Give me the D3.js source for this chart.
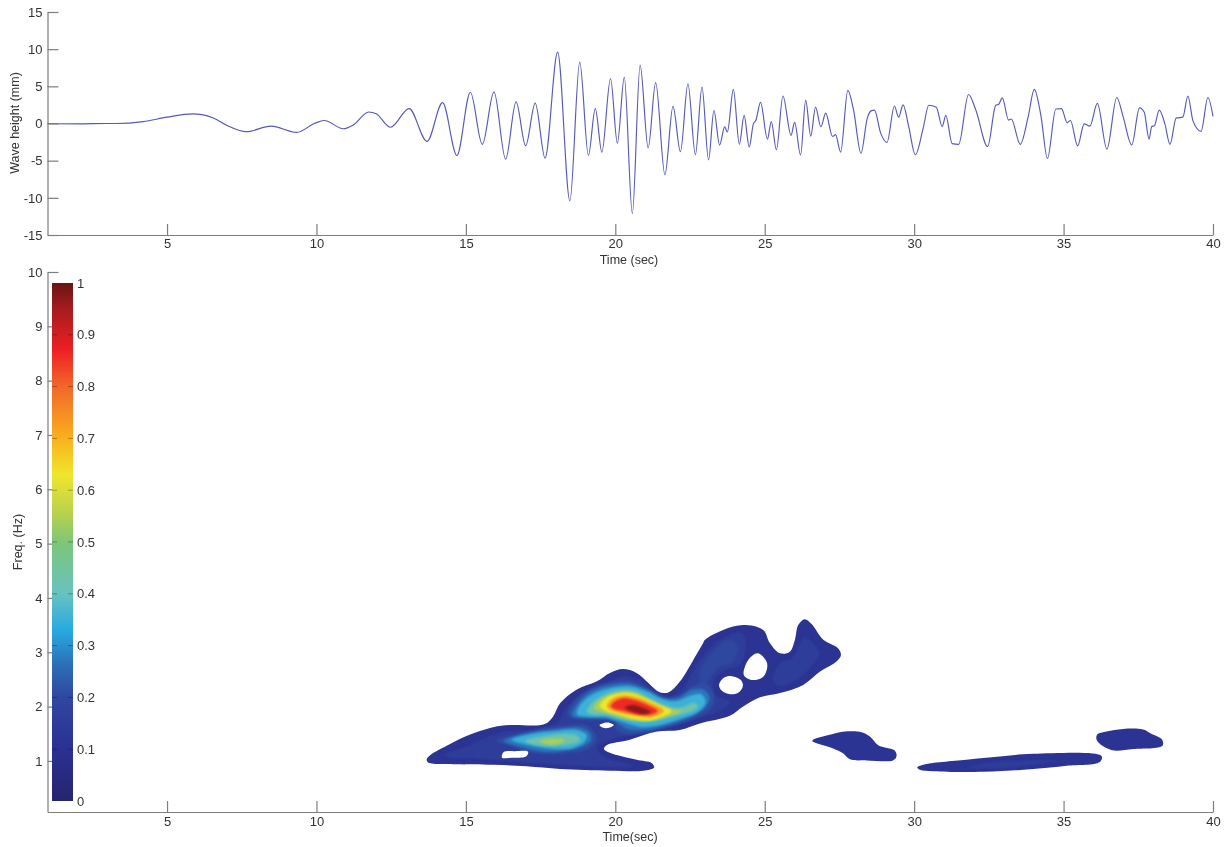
<!DOCTYPE html>
<html>
<head>
<meta charset="utf-8">
<script src="https://cdn.jsdelivr.net/npm/d3@7"></script>
<style>
  html, body { margin: 0; padding: 0; background: #fff; }
  svg { display: block; filter: blur(0.45px); }
  text { font-family: "Liberation Sans", Arial, sans-serif; }
</style>
</head>
<body>
<svg id="chart" width="1230" height="847"></svg>
<script>
// wave record: [time s, height mm]
const waveTime = [1,2,3,3.3,4.2,5,5.85,6.17,6.57,7.03,7.65,8.48,9.34,9.93,10.26,10.9,11.23,11.75,12,12.48,13.1,13.7,14.22,14.7,15.15,15.55,15.94,16.33,16.68,17,17.32,17.65,18.07,18.48,18.81,19.1,19.33,19.55,19.84,20.07,20.3,20.57,20.83,21.1,21.35,21.66,21.93,22.18,22.43,22.68,22.9,23.12,23.3,23.49,23.66,23.75,23.95,24.15,24.31,24.48,24.62,24.7,24.86,25.09,25.22,25.39,25.61,25.88,26,26.2,26.37,26.54,26.7,26.88,27.04,27.27,27.37,27.54,27.78,27.97,28.22,28.43,28.56,28.67,28.88,29.09,29.34,29.48,29.63,29.81,30.04,30.3,30.49,30.74,30.94,31.06,31.27,31.49,31.82,32.06,32.46,32.73,32.83,32.95,33.16,33.25,33.55,33.82,34.02,34.24,34.46,34.74,34.93,35.12,35.23,35.47,35.69,35.88,36.13,36.45,36.78,36.99,37.28,37.54,37.7,37.86,37.95,38.04,38.2,38.39,38.56,38.77,38.99,39.16,39.33,39.6,39.83,40];
const waveHeight = [0,-0.05,0,0,0.25,0.85,1.3,1.2,0.7,-0.3,-1.1,-0.35,-1.2,0,0.4,-0.7,-0.2,1.55,1.3,-0.5,2,-2.4,2.8,-4.3,4.2,-2.8,4.25,-4.8,2.9,-3,2.75,-4.65,9.6,-10.4,8.25,-4.3,2,-3.85,6.05,-2.65,6.2,-12.1,7.85,-3.3,5.5,-6.9,2.3,-3.8,5.35,-4.2,4.9,-4.9,1.75,-2.9,-0.45,-1.15,4.6,-2.8,1.1,-3.15,-0.05,0.4,2.85,-2.1,0.25,-3.55,3.7,-1.6,0.15,-4.25,3.15,-1.7,2.2,-0.45,1.4,-1.75,-1.5,-3.85,4.45,1.85,-4,0.7,1.7,1.8,-1.3,-2.55,2.35,0.85,2.5,-0.25,-4.2,-0.65,2.45,2.2,-0.4,1.1,-2.7,-2.8,3.9,1.85,-3.1,2.45,2.6,3.45,0.45,0.6,-2.8,1,4.6,1.1,-4.7,1.95,2,0.1,0.4,-3,-0.05,-0.35,2.7,-3.45,3.5,0.95,-2.9,2.1,1.5,-2.1,-0.4,-0.3,1.8,-0.05,-2.8,0.75,0.85,3.7,0.35,-1.05,3.5,0.95];

const timeTicks = [5, 10, 15, 20, 25, 30, 35, 40];
const waveTicks = [-15, -10, -5, 0, 5, 10, 15];
const freqTicks = [1, 2, 3, 4, 5, 6, 7, 8, 9, 10];
const barTicks = [0, 0.1, 0.2, 0.3, 0.4, 0.5, 0.6, 0.7, 0.8, 0.9, 1];

// colour bar stops
const stopValues = [0, 0.1, 0.2, 0.26, 0.33, 0.4, 0.5, 0.56, 0.63, 0.7, 0.8, 0.87, 0.95, 1];
const stopColors = ["#25246e", "#2a3192", "#2f479f", "#2d6db5", "#27aae1", "#68c2c0", "#7fc678", "#bcd34a", "#efe62c", "#f9b11d", "#f2672a", "#ed2024", "#a61c20", "#6a1414"];

// contour outlines: [time s, freq Hz]
const mainOutline = [[13.69,1.03],[13.81,1.11],[14.36,1.28],[15.02,1.46],[15.91,1.62],[16.47,1.66],[17.64,1.68],[17.92,1.82],[18.15,2.06],[18.7,2.31],[19.37,2.46],[19.82,2.62],[20.26,2.69],[20.71,2.62],[21.1,2.44],[21.43,2.28],[21.77,2.26],[22.16,2.46],[22.61,2.86],[22.94,3.17],[23,3.23],[23.61,3.41],[24.28,3.5],[24.95,3.41],[25.17,3.17],[25.51,2.98],[25.84,3.01],[26.01,3.23],[26.12,3.5],[26.34,3.61],[26.57,3.52],[26.96,3.23],[27.46,3.07],[27.55,2.95],[27.4,2.83],[26.84,2.64],[26.29,2.4],[25.51,2.25],[24.84,2.17],[24.28,2],[23.83,1.83],[22.83,1.69],[22.16,1.57],[21.38,1.54],[20.49,1.39],[19.71,1.29],[19.62,1.22],[19.82,1.15],[20.71,1.02],[21.21,0.96],[21.3,0.88],[20.93,0.82],[19.82,0.82],[18.15,0.85],[17.03,0.9],[15.91,0.93],[14.58,0.94],[13.74,0.97]];
const bodyLow = [[14.3,1.11],[15.14,1.29],[16.14,1.52],[17.48,1.59],[18.08,1.72],[18.35,1.98],[18.88,2.2],[19.48,2.34],[20.22,2.56],[20.82,2.49],[21.32,2.27],[21.76,2.16],[22.23,2.31],[22.66,2.71],[23.1,3.04],[23.67,3.28],[24.24,3.36],[24.37,3.13],[24.17,2.77],[23.67,2.67],[23.3,2.49],[23.37,2.21],[23.83,2.09],[23.57,1.94],[22.83,1.79],[21.83,1.64],[20.82,1.52],[19.82,1.39],[19.38,1.24],[19.65,1.07],[20.66,0.91],[19.48,0.89],[18.15,0.93],[16.81,0.98],[15.47,1.04],[14.47,1.06]];
const rightLobe = [[25.27,2.49],[25.51,2.8],[25.94,2.91],[26.34,3.28],[26.58,3.19],[26.84,2.99],[26.61,2.77],[26.07,2.49],[25.51,2.38]];
const upperLobe = [[22.83,2.64],[23.23,3],[23.83,3.23],[24.1,3.13],[23.93,2.82],[23.43,2.71],[23.1,2.45],[22.83,2.21]];
const ridgeOuter = [[18.41,1.83],[18.65,2.12],[19.15,2.33],[19.82,2.45],[20.49,2.47],[21.16,2.31],[21.66,2.18],[22.16,2.21],[22.66,2.4],[23.1,2.4],[23.3,2.21],[23.23,1.98],[22.66,1.79],[21.83,1.63],[20.99,1.52],[20.32,1.5],[19.99,1.61],[20.05,1.72],[19.65,1.77],[19.15,1.75]];
const ridgeMid = [[18.55,1.83],[18.78,2.09],[19.22,2.29],[19.82,2.4],[20.49,2.42],[21.16,2.29],[21.56,2.16],[22.09,2.16],[22.56,2.31],[22.96,2.31],[23.16,2.16],[23,1.98],[22.49,1.81],[21.76,1.66],[20.99,1.57],[20.42,1.59],[19.89,1.75],[19.22,1.79]];
const ridgeCyan = [[18.71,1.86],[18.88,2.07],[19.32,2.25],[19.82,2.34],[20.49,2.37],[21.09,2.27],[21.49,2.16],[21.99,2.1],[22.56,2.21],[22.86,2.23],[23.03,2.09],[22.76,1.9],[22.16,1.77],[21.49,1.66],[20.82,1.63],[20.22,1.72],[19.65,1.81],[19.15,1.81]];
const ridgeTeal = [[19.05,1.9],[19.22,2.07],[19.59,2.21],[20.09,2.3],[20.62,2.29],[21.16,2.16],[21.69,2.03],[22.16,1.98],[22.66,2.07],[22.76,1.99],[22.49,1.9],[21.89,1.81],[21.32,1.74],[20.82,1.72],[20.29,1.77],[19.75,1.85],[19.32,1.85]];
const ridgeGreen = [[19.28,1.96],[19.42,2.1],[19.79,2.21],[20.22,2.27],[20.69,2.25],[21.22,2.1],[21.76,1.96],[22.23,1.92],[21.83,1.83],[21.29,1.75],[20.76,1.74],[20.22,1.79],[19.69,1.88]];
const peakYellow = [[19.48,2.01],[19.69,2.16],[20.02,2.23],[20.49,2.25],[20.99,2.16],[21.49,2.03],[21.89,1.92],[21.63,1.83],[21.16,1.75],[20.62,1.77],[20.15,1.85],[19.69,1.92]];
const peakOrange = [[19.72,2.01],[19.89,2.14],[20.22,2.2],[20.62,2.18],[21.09,2.09],[21.63,1.92],[21.22,1.81],[20.69,1.83],[20.22,1.88],[19.82,1.94]];
const peakRed = [[19.85,2.01],[19.99,2.1],[20.29,2.16],[20.66,2.12],[21.09,2.03],[21.42,1.92],[21.16,1.85],[20.69,1.86],[20.26,1.92],[19.95,1.96]];
const peakDark = [[20.32,1.99],[20.59,2.03],[20.92,1.98],[21.19,1.9],[20.95,1.86],[20.62,1.9]];
const lowOuter = [[16.04,1.37],[16.98,1.53],[17.98,1.63],[18.98,1.66],[19.22,1.57],[19.38,1.42],[19.15,1.24],[18.48,1.15],[17.64,1.13],[16.98,1.18],[16.47,1.28]];
const lowMid = [[16.27,1.37],[17.14,1.52],[18.08,1.59],[18.82,1.61],[19.15,1.52],[19.18,1.37],[18.88,1.26],[18.15,1.18],[17.48,1.18],[16.81,1.26]];
const lowCyan = [[16.53,1.39],[17.24,1.5],[18.04,1.55],[18.7,1.57],[19.04,1.48],[18.98,1.36],[18.58,1.24],[17.91,1.22],[17.24,1.28],[16.81,1.33]];
const lowTeal = [[16.98,1.37],[17.64,1.46],[18.31,1.5],[18.75,1.46],[18.82,1.37],[18.31,1.29],[17.64,1.28],[17.21,1.31]];
const lowGreen = [[17.48,1.37],[17.91,1.41],[18.31,1.39],[18.08,1.31],[17.64,1.31]];
const islandA = [[26.59,1.37],[27.18,1.48],[27.68,1.54],[28.24,1.53],[28.52,1.45],[28.8,1.29],[29.35,1.19],[29.41,1.08],[29.29,1.01],[28.41,1.01],[27.85,1.03],[27.62,1.14],[27.29,1.23]];
const islandB = [[30.1,0.88],[30.3,0.93],[31.75,1.02],[32.87,1.08],[33.98,1.13],[36.27,1.09],[36.21,0.98],[35.1,0.91],[33.98,0.85],[32.31,0.8],[30.64,0.81],[30.19,0.84]];
const islandBCore = [[31.75,0.87],[32.87,0.99],[34.76,1],[33.97,0.93],[32.87,0.87]];
const islandC = [[36.12,1.48],[36.44,1.54],[36.99,1.59],[37.66,1.58],[37.94,1.5],[38.3,1.39],[38.31,1.28],[37.33,1.22],[36.6,1.2],[36.12,1.37]];
const holeA = [[16.26,1.16],[16.64,1.18],[17.08,1.17],[17.01,1.08],[16.54,1.06],[16.21,1.06]];
const holeB = [[19.47,1.66],[19.62,1.7],[19.82,1.7],[19.95,1.66],[19.79,1.61],[19.59,1.61]];
const holeC = [[23.47,2.4],[23.63,2.53],[23.9,2.56],[24.2,2.49],[24.27,2.38],[24.1,2.25],[23.8,2.23],[23.57,2.29]];
const holeD = [[24.77,2.98],[25.08,2.8],[24.95,2.55],[24.56,2.49],[24.3,2.58],[24.45,2.86]];

// back to front, each with its contour level
const baseBands = [[0.11, mainOutline], [0.11, islandA], [0.11, islandB], [0.11, islandC]];
const innerBands = [
  [0.16, bodyLow], [0.16, rightLobe], [0.16, islandBCore], [0.2, upperLobe],
  [0.21, ridgeOuter], [0.21, lowOuter], [0.27, ridgeMid], [0.27, lowMid],
  [0.35, ridgeCyan], [0.35, lowCyan], [0.43, ridgeTeal], [0.43, lowTeal],
  [0.54, ridgeGreen], [0.54, lowGreen], [0.63, peakYellow], [0.73, peakOrange],
  [0.86, peakRed], [0.97, peakDark],
];
const holes = [holeA, holeB, holeC, holeD];

const svg = d3.select("#chart");
const defs = svg.append("defs");

defs
  .append("filter")
  .attr("id", "soften")
  .attr("x", "-20%")
  .attr("y", "-20%")
  .attr("width", "140%")
  .attr("height", "140%")
  .append("feGaussianBlur")
  .attr("stdDeviation", 1.1);

const xTop = d3.scaleLinear().domain([1, 40]).range([47.5, 1213]);
const yTop = d3.scaleLinear().domain([-15, 15]).range([235, 12]);
const xLow = d3.scaleLinear().domain([1, 40]).range([47.5, 1213]);
const yLow = d3.scaleLinear().domain([0.06, 10]).range([812, 272]);
const colour = d3.scaleLinear().domain(stopValues).range(stopColors);
const yBar = d3.scaleLinear().domain([0, 1]).range([801, 283]);

function styleAxis(g) {
  g.selectAll("path, line").attr("stroke", "#7d7d7d").attr("stroke-width", 1.2);
  g.selectAll("text").attr("font-size", 13);
}

// top panel
const topPanel = svg.append("g");

topPanel
  .append("path")
  .datum(d3.zip(waveTime, waveHeight))
  .attr("fill", "none")
  .attr("stroke", "#5559b8")
  .attr("stroke-width", 1.15)
  .attr("d", d3.line().x((d) => xTop(d[0])).y((d) => yTop(d[1])).curve(d3.curveMonotoneX));

topPanel
  .append("g")
  .attr("transform", "translate(0,235)")
  .call(d3.axisBottom(xTop).tickValues(timeTicks).tickSize(-11).tickSizeOuter(0).tickPadding(4))
  .call(styleAxis);

topPanel
  .append("g")
  .attr("transform", "translate(47.5,0)")
  .call(d3.axisLeft(yTop).tickValues(waveTicks).tickSize(-11).tickSizeOuter(0).tickPadding(5).tickFormat((d) => String(d)))
  .call(styleAxis);

topPanel
  .append("text")
  .attr("x", 629)
  .attr("y", 264)
  .attr("text-anchor", "middle")
  .text("Time (sec)");

topPanel
  .append("text")
  .attr("transform", "translate(19,123) rotate(-90)")
  .attr("text-anchor", "middle")
  .text("Wave height (mm)");

// lower panel
const lowPanel = svg.append("g");
const contourLine = d3
  .line()
  .x((d) => xLow(d[0]))
  .y((d) => yLow(d[1]))
  .curve(d3.curveCatmullRomClosed.alpha(0.5));

lowPanel
  .append("g")
  .selectAll("path")
  .data(baseBands)
  .enter()
  .append("path")
  .attr("d", (d) => contourLine(d[1]))
  .attr("fill", (d) => colour(d[0]));

lowPanel
  .append("g")
  .selectAll("path")
  .data(innerBands)
  .enter()
  .append("path")
  .attr("d", (d) => contourLine(d[1]))
  .attr("fill", (d) => colour(d[0]))
  .attr("filter", "url(#soften)");

lowPanel
  .append("g")
  .selectAll("path")
  .data(holes)
  .enter()
  .append("path")
  .attr("d", (d) => contourLine(d))
  .attr("fill", "#fff");

lowPanel
  .append("g")
  .attr("transform", "translate(0,812)")
  .call(d3.axisBottom(xLow).tickValues(timeTicks).tickSize(-11).tickSizeOuter(0).tickPadding(5))
  .call(styleAxis);

lowPanel
  .append("g")
  .attr("transform", "translate(47.5,0)")
  .call(d3.axisLeft(yLow).tickValues(freqTicks).tickSize(-11).tickSizeOuter(0).tickPadding(5))
  .call(styleAxis);

lowPanel
  .append("text")
  .attr("x", 630)
  .attr("y", 841)
  .attr("text-anchor", "middle")
  .text("Time(sec)");

lowPanel
  .append("text")
  .attr("transform", "translate(22,542) rotate(-90)")
  .attr("text-anchor", "middle")
  .text("Freq. (Hz)");

// colour bar
const gradient = defs
  .append("linearGradient")
  .attr("id", "barFill")
  .attr("x1", 0)
  .attr("y1", 1)
  .attr("x2", 0)
  .attr("y2", 0);

gradient
  .selectAll("stop")
  .data(stopValues)
  .enter()
  .append("stop")
  .attr("offset", (d) => d)
  .attr("stop-color", (d) => colour(d));

svg
  .append("rect")
  .attr("x", 52)
  .attr("y", yBar(1))
  .attr("width", 21)
  .attr("height", yBar(0) - yBar(1))
  .attr("fill", "url(#barFill)");

const barAxis = svg
  .append("g")
  .attr("transform", "translate(73,0)")
  .call(d3.axisRight(yBar).tickValues(barTicks).tickSize(0).tickPadding(4).tickFormat(d3.format("~g")))
  .call(styleAxis);
barAxis.select(".domain").remove();

[[52, 57], [68, 73]].forEach((seg) => {
  svg
    .append("g")
    .selectAll("line")
    .data(barTicks.slice(1, -1))
    .enter()
    .append("line")
    .attr("x1", seg[0])
    .attr("x2", seg[1])
    .attr("y1", (d) => yBar(d))
    .attr("y2", (d) => yBar(d))
    .attr("stroke", "#000")
    .attr("stroke-opacity", 0.3);
});

svg
  .selectAll("text")
  .attr("fill", "#333")
  .attr("font-family", '"Liberation Sans", Arial, sans-serif')
  .filter(function () { return !this.getAttribute("font-size"); })
  .attr("font-size", 12.5);
</script>
</body>
</html>
